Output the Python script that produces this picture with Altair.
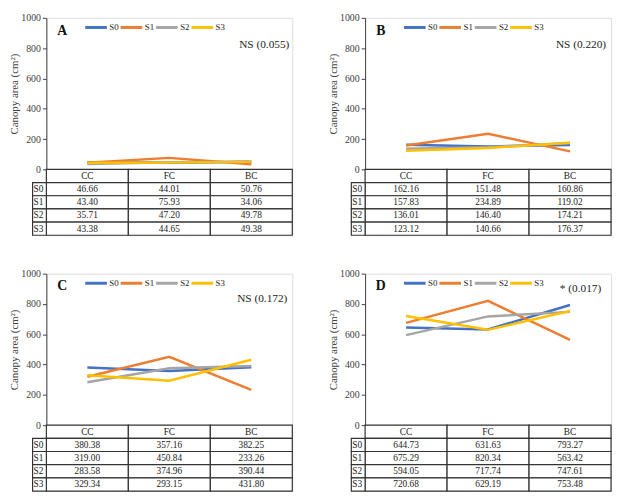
import altair as alt
import pandas as pd

conditions = ["CC", "FC", "BC"]
series = ["S0", "S1", "S2", "S3"]
colors = ["#4472C4", "#ED7D31", "#A5A5A5", "#FFC000"]
y_ticks = [0, 200, 400, 600, 800, 1000]

A_S0 = [46.66, 44.01, 50.76]
A_S1 = [43.40, 75.93, 34.06]
A_S2 = [35.71, 47.20, 49.78]
A_S3 = [43.38, 44.65, 49.38]

B_S0 = [162.16, 151.48, 160.86]
B_S1 = [157.83, 234.89, 119.02]
B_S2 = [136.01, 146.40, 174.21]
B_S3 = [123.12, 140.66, 176.37]

C_S0 = [380.38, 357.16, 382.25]
C_S1 = [319.00, 450.84, 233.26]
C_S2 = [283.58, 374.96, 390.44]
C_S3 = [329.34, 293.15, 431.80]

D_S0 = [644.73, 631.63, 793.27]
D_S1 = [675.29, 820.34, 563.42]
D_S2 = [594.05, 717.74, 747.61]
D_S3 = [720.68, 629.19, 753.48]

letters = ["A", "B", "C", "D"]
notes = ["NS (0.055)", "NS (0.220)", "NS (0.172)", "* (0.017)"]

FONT = "Liberation Serif, Times New Roman, serif"
W = 250
H_LINE = 154
H_TAB = 67
rows = ["hdr"] + series


def panel(vals, letter, note, note_right, note_top):
    recs = []
    for s, v in zip(series, vals):
        for c, x in zip(conditions, v):
            recs.append({"series": s, "cond": c, "value": x, "label": f"{x:.2f}"})
    df = pd.DataFrame(recs)

    xs = alt.X("cond:N", sort=conditions,
               scale=alt.Scale(type="point", domain=conditions, padding=0.5), axis=None)
    lines = alt.Chart(df).mark_line(strokeWidth=2.5).encode(
        x=xs,
        y=alt.Y("value:Q", scale=alt.Scale(domain=[0, 1000]),
                axis=alt.Axis(values=y_ticks, format="d", title="Canopy area (cm²)",
                              grid=False,
                              tickSize=4, tickColor="#404040", domainColor="#404040",
                              labelFont=FONT, labelFontSize=10, labelColor="#404040",
                              labelPadding=2,
                              titleFont=FONT, titleFontSize=11, titleFontWeight="normal",
                              titleColor="#404040", titleX=-27, titleY=H_LINE / 2)),
        color=alt.Color("series:N", scale=alt.Scale(domain=series, range=colors),
                        legend=alt.Legend(orient="none", legendX=38, legendY=-3,
                                          direction="horizontal", title=None,
                                          symbolType="stroke", symbolStrokeWidth=3,
                                          symbolSize=484, labelFont=FONT, labelFontSize=9,
                                          labelColor="#222", labelOffset=1,
                                          columnPadding=-5)),
    )
    tdf = pd.DataFrame({"t": [letter], "n": [note]})
    let = alt.Chart(tdf).mark_text(font=FONT, fontSize=14, fontWeight="bold",
                                   color="#111").encode(
        text="t:N", x=alt.value(16), y=alt.value(13))
    nt = alt.Chart(tdf).mark_text(font=FONT, fontSize=11.5, align="right",
                                  color="#222").encode(
        text="n:N", x=alt.value(W - note_right), y=alt.value(note_top))
    line_chart = alt.layer(lines, let, nt).properties(width=W, height=H_LINE)

    # table
    trecs = []
    for c in conditions:
        trecs.append({"row": "hdr", "cond": c, "label": c})
    for r in recs:
        trecs.append({"row": r["series"], "cond": r["cond"], "label": r["label"]})
    tdf2 = pd.DataFrame(trecs)
    tx = alt.X("cond:N", sort=conditions,
               scale=alt.Scale(domain=conditions, paddingInner=0, paddingOuter=0), axis=None)
    ty = alt.Y("row:N", sort=rows,
               scale=alt.Scale(domain=rows, paddingInner=0, paddingOuter=0), axis=None)
    cells = alt.Chart(tdf2).mark_rect(fill="white", stroke="#333", strokeWidth=1.2).encode(
        x=tx, y=ty)
    ctext = alt.Chart(tdf2).mark_text(font=FONT, fontSize=9.5, color="#222").encode(
        x=tx, y=ty, text="label:N")
    ldf = pd.DataFrame({"row": series})
    lbox = alt.Chart(ldf).mark_rect(fill="white", stroke="#333", strokeWidth=1.2).encode(
        x=alt.value(-14), x2=alt.value(0), y=ty)
    ltext = alt.Chart(ldf).mark_text(font=FONT, fontSize=9.5, align="left",
                                     color="#222").encode(
        x=alt.value(-13), y=ty, text="row:N")
    table = alt.layer(cells, ctext, lbox, ltext).properties(width=W, height=H_TAB)

    return alt.vconcat(line_chart, table, spacing=0, bounds="flush").resolve_scale(
        color="independent", x="independent", y="independent")


pA = panel([A_S0, A_S1, A_S2, A_S3], letters[0], notes[0], 3, 28)
pB = panel([B_S0, B_S1, B_S2, B_S3], letters[1], notes[1], 5, 28)
pC = panel([C_S0, C_S1, C_S2, C_S3], letters[2], notes[2], 5, 26)
pD = panel([D_S0, D_S1, D_S2, D_S3], letters[3], notes[3], 10, 16)

top = alt.hconcat(pA, pB, spacing=33).resolve_scale(color="independent")
bot = alt.hconcat(pC, pD, spacing=33).resolve_scale(color="independent")
chart = alt.vconcat(top, bot, spacing=31).resolve_scale(
    color="independent").properties(padding=0).configure_view(stroke=None).configure(
    font=FONT)

chart.save("out.html", embed_options={"renderer": "svg", "actions": False})
